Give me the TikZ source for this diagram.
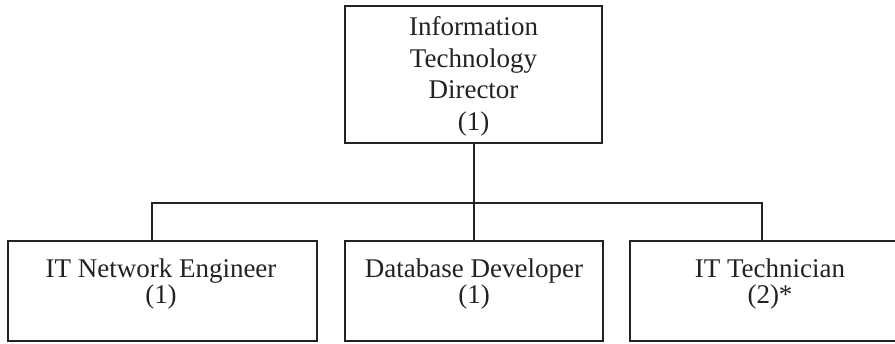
\documentclass[tikz,border=0pt]{standalone}
\usepackage{fontspec}
\setmainfont{Liberation Serif}
\definecolor{ink}{HTML}{222222}
\newcommand{\tightlines}{\setlength{\lineskiplimit}{-100pt}}
\begin{document}
\begin{tikzpicture}[x=1pt,y=-1pt,
  boxst/.style={draw=ink, line width=2pt, rectangle, inner sep=0pt, outer sep=0pt},
  toptxt/.style={text=ink, align=center, inner sep=0pt, anchor=base, font={\fontsize{27}{31.5}\selectfont}},
  subtxt/.style={text=ink, align=center, inner sep=0pt, anchor=base, font={\fontsize{27}{26}\selectfont\tightlines}},
  link/.style={draw=ink, line width=2pt, line join=miter}]
\useasboundingbox (0,0) rectangle (895,343);
\clip (0,0) rectangle (895,343);
\node[boxst, minimum width=257pt, minimum height=137pt] (dir) at (473.5,74.5) {};
\node[boxst, minimum width=309pt, minimum height=100pt] (eng) at (162.5,291) {};
\node[boxst, minimum width=258pt, minimum height=100pt] (db) at (474,291) {};
\node[boxst, minimum width=280pt, minimum height=100pt] (tech) at (770,291) {};
\node[toptxt] (dirt) at (473.5,130) {Information\\Technology\\Director\\(1)};
\node[subtxt] (engt) at (161,303) {IT Network Engineer\\(1)};
\node[subtxt] (dbt) at (474,303) {Database Developer\\(1)};
\node[subtxt] (techt) at (770,303) {IT Technician\\(2)*};
\coordinate (j) at (473.5,203);
\coordinate (jl) at (152,203);
\coordinate (jr) at (762,203);
\draw[link] (dir.south) -- (j);
\draw[link] (eng.north -| jl) -- (jl) -- (jr) -- (tech.north -| jr);
\draw[link] (j) -- (db.north -| j);
\end{tikzpicture}
\end{document}
